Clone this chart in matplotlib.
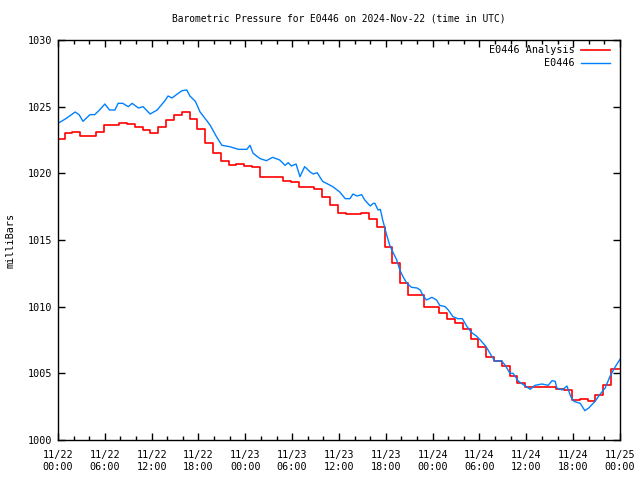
from datetime import datetime, timedelta
import matplotlib
matplotlib.use("Agg")
import matplotlib.pyplot as plt
import matplotlib.dates as mdates

start = datetime(2024, 11, 22, 0, 0)

# Hourly analysis values (held until next hour, steps at about :50)
analysis_hours = list(range(73))
analysis_mb = [
    1022.6, 1023.0, 1023.1, 1022.8, 1022.8, 1023.1, 1023.6, 1023.6, 1023.8, 1023.7,
    1023.5, 1023.25, 1023.0, 1023.5, 1024.0, 1024.4, 1024.6, 1024.05, 1023.3, 1022.3,
    1021.5, 1020.9, 1020.6, 1020.7, 1020.55, 1020.5, 1019.75, 1019.7, 1019.7, 1019.4,
    1019.35, 1019.0, 1019.0, 1018.8, 1018.2, 1017.6, 1017.0, 1016.95, 1016.95, 1017.0,
    1016.6, 1016.0, 1014.5, 1013.25, 1011.75, 1010.85, 1010.85, 1010.0, 1010.0, 1009.5,
    1009.05, 1008.75, 1008.3, 1007.6, 1006.95, 1006.2, 1005.95, 1005.55, 1004.8, 1004.3,
    1003.95, 1003.95, 1004.0, 1004.0, 1003.8, 1003.75, 1003.0, 1003.05, 1002.9, 1003.4,
    1004.1, 1005.3, 1005.3,
]

# Station observations
obs_hours = [
    0.0, 1.0, 2.2, 2.7, 3.2, 4.1, 4.7, 5.4, 6.0, 6.6, 7.3, 7.7, 8.3, 9.0, 9.5,
    10.3, 10.9, 11.8, 12.7, 13.7, 14.1, 14.6, 15.4, 15.9, 16.5, 16.9, 17.6, 18.2,
    19.0, 19.5, 20.3, 21.0, 22.0, 23.1, 24.2, 24.6, 25.0, 25.9, 26.7, 27.5, 28.4,
    29.1, 29.5, 29.9, 30.5, 31.0, 31.6, 32.3, 32.7, 33.2, 33.9, 35.2, 36.1, 36.8,
    37.4, 37.8, 38.3, 38.9, 39.3, 40.0, 40.4, 40.6, 41.0, 41.3, 41.6, 42.1, 42.5,
    42.9, 43.4, 43.8, 44.2, 44.7, 45.3, 46.0, 46.4, 46.8, 47.2, 47.9, 48.5, 48.9,
    49.6, 50.0, 50.6, 51.2, 51.8, 52.4, 53.0, 53.6, 54.1, 54.7, 55.1, 55.6, 56.0,
    56.8, 57.3, 57.9, 58.3, 59.0, 60.0, 60.5, 61.1, 62.0, 62.8, 63.3, 63.7, 63.9,
    64.6, 65.2, 65.7, 66.1, 66.9, 67.5, 68.0, 68.8, 69.4, 70.1, 70.7, 71.4, 72.0,
]
obs_mb = [
    1023.75, 1024.1, 1024.6, 1024.4, 1023.9, 1024.4, 1024.4, 1024.8, 1025.2, 1024.75,
    1024.75, 1025.25, 1025.25, 1025.0, 1025.25, 1024.9, 1025.0, 1024.45, 1024.75,
    1025.45, 1025.8, 1025.65, 1026.0, 1026.2, 1026.25, 1025.8, 1025.4, 1024.6,
    1024.0, 1023.6, 1022.75, 1022.1, 1022.0, 1021.8, 1021.8, 1022.1, 1021.5, 1021.1,
    1020.95, 1021.2, 1021.0, 1020.6, 1020.8, 1020.55, 1020.7, 1019.75, 1020.5,
    1020.1, 1019.95, 1020.05, 1019.4, 1019.0, 1018.6, 1018.1, 1018.1, 1018.45,
    1018.3, 1018.4, 1018.0, 1017.55, 1017.75, 1017.75, 1017.25, 1017.3, 1016.5,
    1015.4, 1014.6, 1014.1, 1013.5, 1012.75, 1012.25, 1011.75, 1011.45, 1011.4,
    1011.25, 1010.8, 1010.5, 1010.7, 1010.5, 1010.1, 1010.0, 1009.75, 1009.25,
    1009.1, 1009.1, 1008.5, 1008.05, 1007.8, 1007.5, 1007.1, 1006.75, 1006.25,
    1005.9, 1005.95, 1005.6, 1005.0, 1005.0, 1004.4, 1004.0, 1003.8, 1004.1, 1004.2,
    1004.1, 1004.45, 1004.4, 1003.9, 1003.75, 1004.05, 1003.25, 1002.9, 1002.75,
    1002.2, 1002.4, 1002.9, 1003.4, 1003.9, 1004.75, 1005.5, 1006.05,
]

font = "DejaVu Sans Mono"
fs = 7.3
plt.rcParams["font.family"] = font

fig = plt.figure(figsize=(6.4, 4.8), dpi=100)
ax = fig.add_axes([58 / 640, 40 / 480, 562 / 640, 400 / 480])

step_offset = timedelta(minutes=-9)
analysis_t = [start + timedelta(hours=h) + step_offset for h in analysis_hours]
obs_t = [start + timedelta(hours=h) for h in obs_hours]

ax.plot(analysis_t, analysis_mb, color="#ff0000", lw=1.2, drawstyle="steps-post",
        label="E0446 Analysis")
ax.plot(obs_t, obs_mb, color="#0080ff", lw=1.0, label="E0446")

ax.set_xlim(start, start + timedelta(hours=72))
ax.set_ylim(1000, 1030)
ax.set_yticks(range(1000, 1031, 5))

ax.xaxis.set_major_locator(mdates.HourLocator(byhour=range(0, 24, 6)))
ax.xaxis.set_minor_locator(mdates.HourLocator(interval=2))
ax.xaxis.set_major_formatter(mdates.DateFormatter("%m/%d\n%H:%M"))

ax.tick_params(which="both", direction="in", top=True, right=True, labelsize=fs,
               width=1, color="black")
ax.tick_params(which="major", length=5)
ax.tick_params(which="minor", length=3)
ax.tick_params(axis="y", which="major", pad=4)
ax.tick_params(axis="x", which="major", pad=7.5)
for s in ax.spines.values():
    s.set_linewidth(1)

ax.set_title("Barometric Pressure for E0446 on 2024-Nov-22 (time in UTC)",
             fontsize=6.9, pad=13)
ax.set_ylabel("milliBars", fontsize=fs, labelpad=9)

ax.legend(loc="upper right", bbox_to_anchor=(0.9893, 0.9975), frameon=False,
          fontsize=fs, markerfirst=False, handlelength=2.85, handletextpad=0.6,
          labelspacing=0.3, borderaxespad=0)

fig.savefig("out.png", dpi=100)
